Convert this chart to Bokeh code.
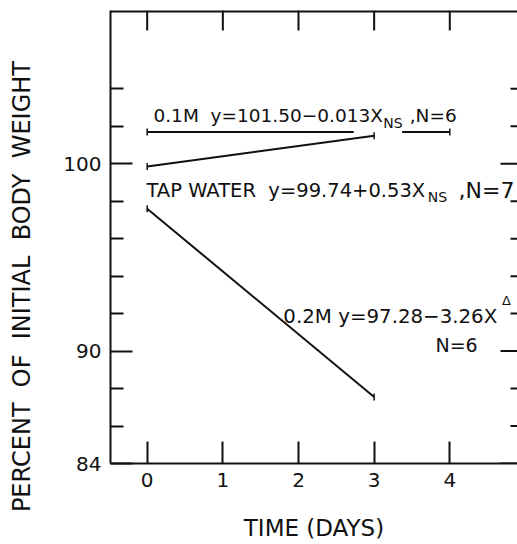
from bokeh.plotting import figure
from bokeh.models import ColumnDataSource, LinearAxis, FixedTicker, Range1d
from bokeh.core.properties import value
from bokeh.embed import file_html
from bokeh.resources import INLINE
import math

NaN = float("nan")
SP = "\u00a0"

# ---------------- data ----------------
x_ticks = [0, 1, 2, 3, 4]
x_tick_labels = ["0", "1", "2", "3", "4"]
y_major = [84, 90, 100]
y_minor = [86, 88, 92, 94, 96, 98, 102, 104]

# 0.1 M saline (line interrupted near day 3)
m01_days = [0, 2.73, NaN, 3.37, 4]
m01_pct = [101.7, 101.7, NaN, 101.7, 101.7]
# tap water
tap_days = [0, 3]
tap_pct = [99.85, 101.5]
# 0.2 M saline
m02_days = [0, 3]
m02_pct = [97.6, 87.55]

# end caps of each regression line
cap_days = [0, 4, 0, 3, 0, 3]
cap_pct = [101.7, 101.7, 99.85, 101.5, 97.6, 87.55]

# annotation texts
ann_text = ["0.1M" + SP + SP + "y=101.50\u22120.013X", "NS", ",N=6",
            "TAP" + SP + "WATER" + SP + SP + "y=99.74+0.53X", "NS", ",N=7",
            "0.2M y=97.28\u22123.26X", "\u0394", "N=6"]
# layout of annotations
ann_size = ["18.5px", "14px", "18.5px",
            "19.5px", "14px", "22px",
            "19.8px", "13px", "19px"]
ann_x = [0.083, 3.12, 3.47, -0.01, 3.71, 4.115, 1.80, 4.69, 3.81]
ann_y = [102.58, 102.2, 102.58, 98.57, 98.2, 98.57, 91.86, 92.70, 90.30]

y_title = ("PERCENT" + SP + SP + "OF" + SP + SP + "INITIAL" + SP + SP
           + "BODY" + SP + SP + "WEIGHT")
x_title = "TIME (DAYS)"

FONT = "DejaVu Sans"
INK = "#111111"

x0, x1 = -0.485, 4.895
y0, y1 = 84, 108.18
FRAME_W, FRAME_H = 407, 453

p = figure(width=517, height=544, output_backend="svg", toolbar_location=None,
           x_range=Range1d(x0, x1), y_range=Range1d(y0, y1),
           x_axis_location=None, y_axis_location=None,
           min_border_left=110, min_border_right=0, min_border_top=10,
           min_border_bottom=81)
p.outline_line_color = None
p.grid.visible = False
p.background_fill_color = "white"
p.border_fill_color = "white"

def style_axis(ax):
    ax.axis_line_width = 2
    ax.axis_line_color = INK
    ax.major_tick_line_width = 2
    ax.major_tick_line_color = INK
    ax.minor_tick_line_width = 2
    ax.minor_tick_line_color = INK
    ax.major_tick_out = 0
    ax.minor_tick_out = 0
    ax.major_label_text_font = FONT
    ax.major_label_text_color = INK
    ax.major_label_text_font_size = "20px"
    ax.axis_label_text_font = FONT
    ax.axis_label_text_font_style = "normal"
    ax.axis_label_text_color = INK

left = LinearAxis(ticker=FixedTicker(ticks=y_major, minor_ticks=y_minor),
                  major_label_overrides={v: str(v) for v in y_major})
style_axis(left)
left.major_tick_in = 22
left.minor_tick_in = 13
left.major_label_standoff = 9
# trailing no-break spaces push the visible title below the frame centre,
# where the reference has it
left.axis_label = y_title + SP * 13
left.axis_label_text_font_size = "24px"
left.axis_label_standoff = 24
p.add_layout(left, "left")

bottom = LinearAxis(ticker=FixedTicker(ticks=x_ticks, minor_ticks=[]),
                    major_label_overrides=dict(zip(x_ticks, x_tick_labels)))
style_axis(bottom)
bottom.major_tick_in = 22
bottom.major_label_standoff = 9
bottom.axis_label = x_title
bottom.axis_label_text_font_size = "23px"
bottom.axis_label_standoff = 25
p.add_layout(bottom, "below")

xscale = FRAME_W / (x1 - x0)
yscale = FRAME_H / (y1 - y0)

# top spine and its inward ticks
p.segment(x0=[x0], x1=[x1], y0=[y1], y1=[y1], line_width=4, line_color=INK)
p.segment(x0=x_ticks, x1=x_ticks, y0=[y1] * len(x_ticks),
          y1=[y1 - 20 / yscale] * len(x_ticks), line_width=2, line_color=INK)

# right-hand ticks (spine lies just outside the picture)
r_ticks = y_major + y_minor
r_len = [17] * len(y_major) + [7] * len(y_minor)
p.segment(x0=[x1 - L / xscale for L in r_len], x1=[x1] * len(r_ticks),
          y0=r_ticks, y1=r_ticks, line_width=2, line_color=INK)

# regression lines
p.line(m01_days, m01_pct, line_width=2, line_color=INK)
p.line(tap_days, tap_pct, line_width=2, line_color=INK)
p.line(m02_days, m02_pct, line_width=2, line_color=INK)
p.scatter(cap_days, cap_pct, marker="dash", angle=math.pi / 2, size=7,
          line_width=1.5, line_color=INK)

# annotations
src = ColumnDataSource(dict(x=ann_x, y=ann_y, t=ann_text, s=ann_size))
p.text(x="x", y="y", text="t", source=src, text_font=value(FONT),
       text_font_size="s", text_color=INK, text_baseline="alphabetic",
       text_align="left")

open("out.html", "w").write(file_html(p, INLINE))
